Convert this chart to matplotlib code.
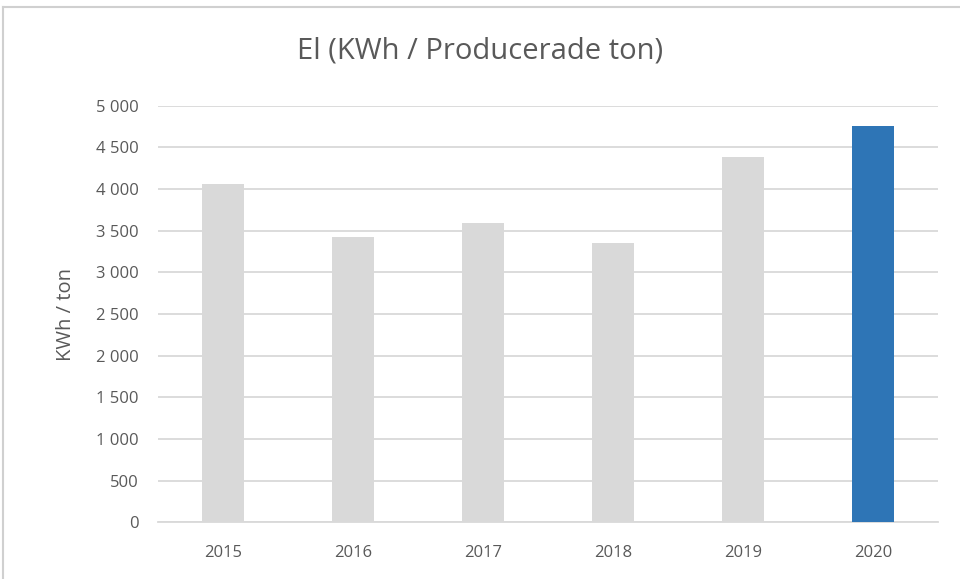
import matplotlib
matplotlib.use("Agg")
from matplotlib import pyplot as plt
from matplotlib.lines import Line2D
import numpy as np

# data
years = ["2015", "2016", "2017", "2018", "2019", "2020"]
kwh_per_ton = [4060, 3428, 3596, 3349, 4381, 4753]
y_ticks = [0, 500, 1000, 1500, 2000, 2500, 3000, 3500, 4000, 4500, 5000]

grey = "#D9D9D9"
blue = "#2E75B6"
text_col = "#595959"

plt.rcParams['font.family'] = ['Open Sans', 'DejaVu Sans']

fig = plt.figure(figsize=(9.6, 5.79), dpi=100)
ax = fig.add_axes([158/960, 56.6/579, 780/960, 416.7/579])

x = np.arange(len(years))
colors = [grey] * (len(years) - 1) + [blue]
ax.bar(x, kwh_per_ton, width=0.32, color=colors, zorder=3)

ax.set_xlim(-0.5, len(years) - 0.5)
ax.set_ylim(0, 5000)
ax.set_yticks(y_ticks)
ax.set_yticklabels([f"{v:,}".replace(",", " ") for v in y_ticks])
ax.set_xticks(x)
ax.set_xticklabels(years)
ax.tick_params(axis="both", length=0, labelsize=12, colors=text_col)
ax.tick_params(axis="y", pad=14)
ax.tick_params(axis="x", pad=16)
ax.grid(axis="y", color=grey, linewidth=1.3, zorder=0)
for s in ["top", "right", "left"]:
    ax.spines[s].set_visible(False)
ax.spines["bottom"].set_color(grey)
ax.spines["bottom"].set_linewidth(1.3)

ax.set_ylabel("KWh / ton", fontsize=14.5, color=text_col, labelpad=14)
fig.text(0.5, 1 - 51/579, "El (KWh / Producerade ton)", ha="center", va="center",
         fontsize=21, color=text_col)

# chart-area border like the Excel frame
fig.add_artist(Line2D([3/960, 1], [1 - 7/579, 1 - 7/579], color="#D0D0D0", lw=1.5,
                      transform=fig.transFigure))
fig.add_artist(Line2D([3/960, 3/960], [0, 1 - 7/579], color="#D0D0D0", lw=1.5,
                      transform=fig.transFigure))

fig.savefig("out.png", dpi=100)
